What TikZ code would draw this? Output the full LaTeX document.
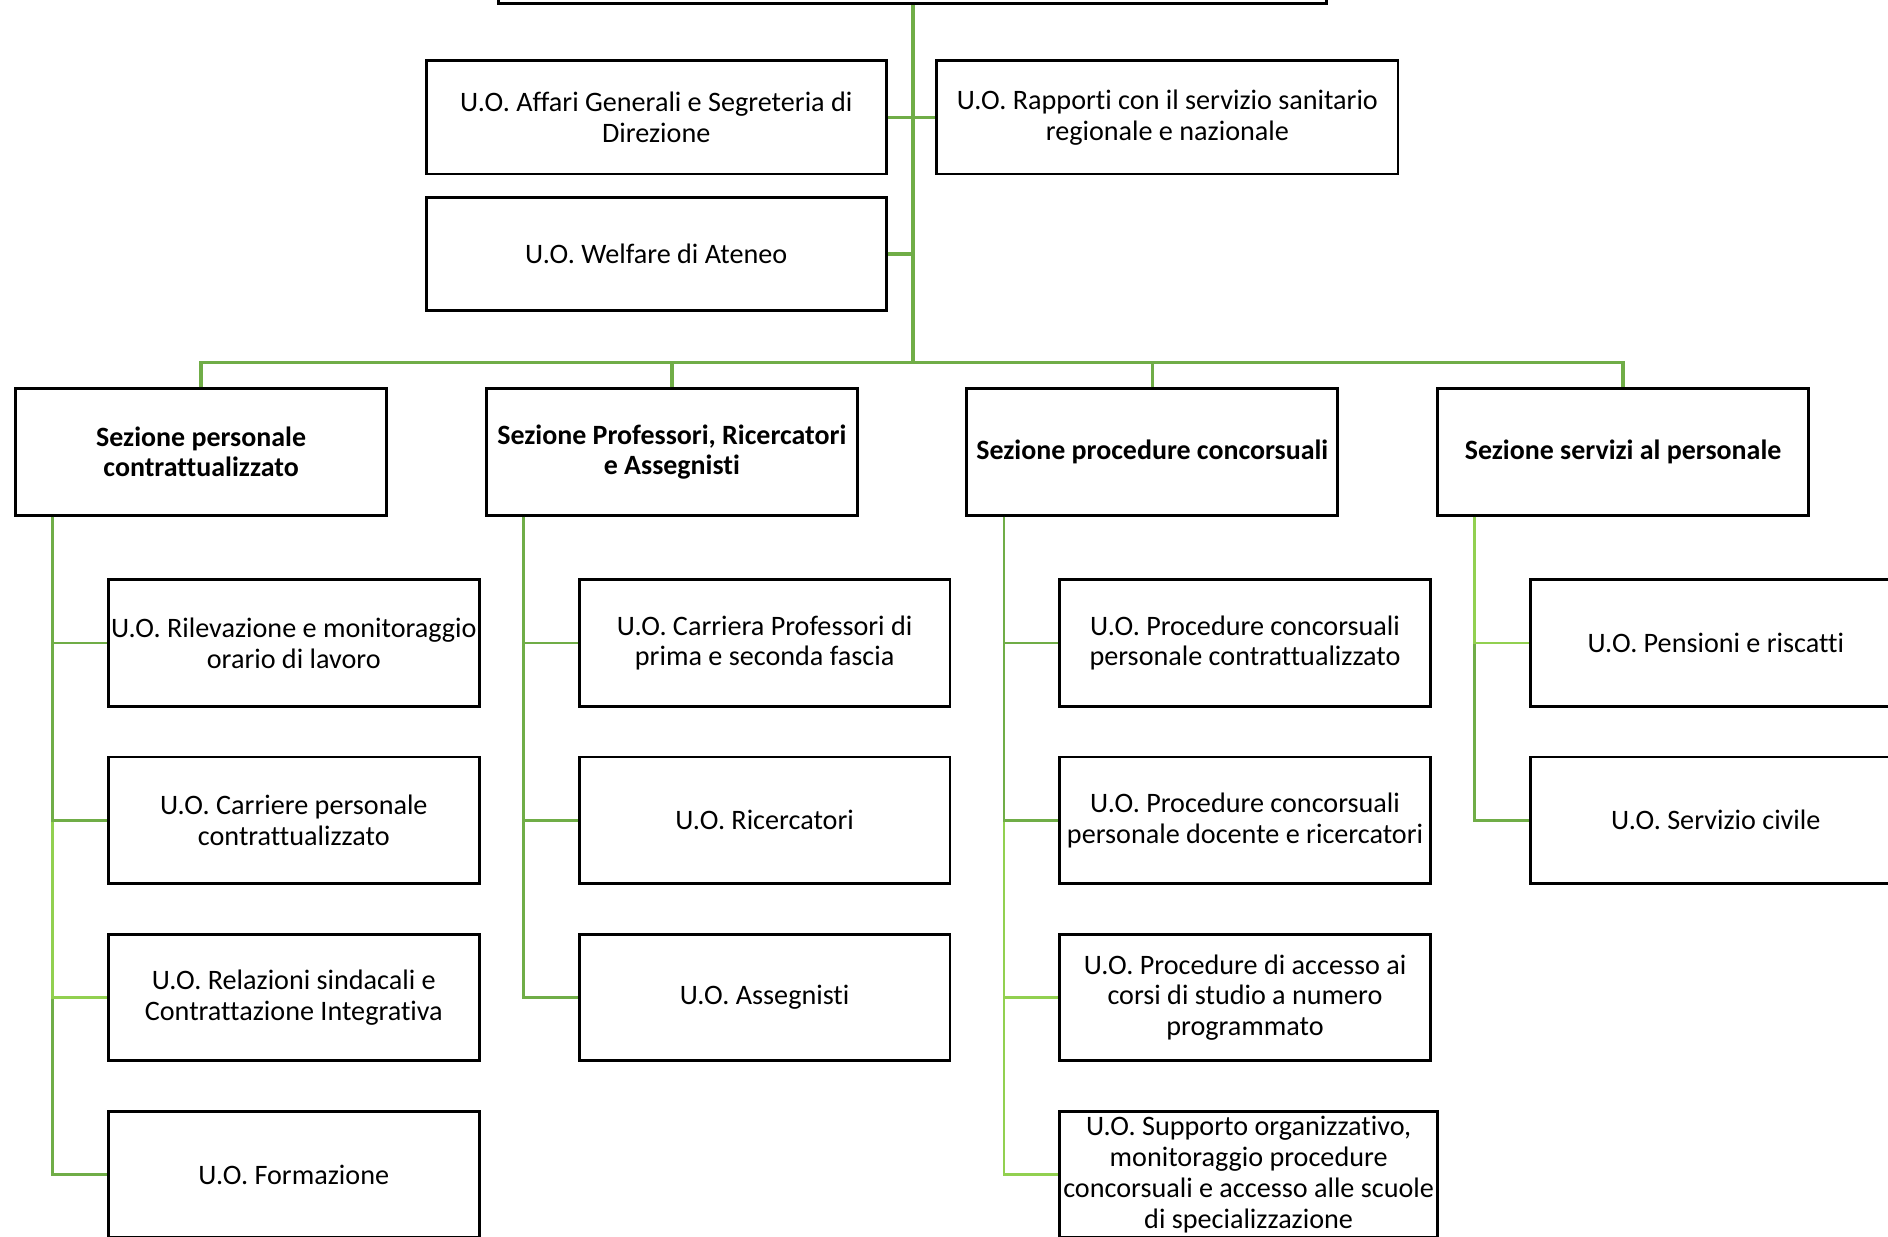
\documentclass[tikz,border=0pt]{standalone}
\usepackage{fontspec}
\setmainfont{Carlito}[Ligatures=NoCommon]
\definecolor{verde}{HTML}{70AD47}
\definecolor{verdechiaro}{HTML}{92D050}

\tikzset{
	ufficio/.style={draw=black, line width=1.2pt, minimum width=154pt, minimum height=52.5pt,
		align=center, inner sep=1pt, font=\fontsize{11.7}{12.8}\selectfont},
	sezione/.style={ufficio, font=\fontsize{11.6}{12.4}\selectfont\bfseries},
	ramo/.style={draw=verde, line width=1.5pt},
	foglia/.style={line width=1.1pt},
}

\begin{document}
\begin{tikzpicture}[x=0.5pt,y=-0.5pt]
	\useasboundingbox (0,0) rectangle (1568,1027);
	\clip (0,0) rectangle (1568,1027);

	% direzione e uffici di staff
	\node[ufficio, minimum width=344pt, minimum height=40pt, anchor=south] (dir) at (758,4) {};
	\node[ufficio, minimum width=191pt, minimum height=47pt] (agsd) at (545,97.5) {U.O. Affari Generali e Segreteria di\\Direzione};
	\node[ufficio, minimum width=191.5pt, minimum height=47pt] (rssn) at (969.5,97.5) {U.O. Rapporti con il servizio sanitario\\regionale e nazionale};
	\node[ufficio, minimum width=191pt, minimum height=47pt] (wel) at (545,211) {U.O. Welfare di Ateneo};

	% sezioni
	\foreach \n/\x/\testo in {s1/167/{Sezione personale\\contrattualizzato}, s2/558/{Sezione Professori, Ricercatori\\e Assegnisti}, s3/957/{Sezione procedure concorsuali}, s4/1348/{Sezione servizi al personale}}
		\node[sezione] (\n) at (\x,375.5) {\testo};

	\coordinate (bus) at (758,301);
	\draw[ramo] (dir.south) -- (bus);
	\draw[ramo] (agsd.east) -- (rssn.west);
	\draw[ramo] (wel.east) -- (wel.east -| bus);
	\draw[ramo] (s1.north) |- (bus) -| (s4.north);
	\draw[ramo] (s2.north) -- (s2.north |- bus);
	\draw[ramo] (s3.north) -- (s3.north |- bus);

	% unita' operative
	\foreach \testo [count=\i] in {{U.O. Rilevazione e monitoraggio\\orario di lavoro}, {U.O. Carriere personale\\contrattualizzato}, {U.O. Relazioni sindacali e\\Contrattazione Integrativa}, {U.O. Formazione}}
		\node[ufficio] (c1\i) at (244,{534+147.2*(\i-1)}) {\testo};
	\foreach \testo [count=\i] in {{U.O. Carriera Professori di\\prima e seconda fascia}, {U.O. Ricercatori}, {U.O. Assegnisti}}
		\node[ufficio] (c2\i) at (635,{534+147.2*(\i-1)}) {\testo};
	\foreach \testo [count=\i] in {{U.O. Procedure concorsuali\\personale contrattualizzato}, {U.O. Procedure concorsuali\\personale docente e ricercatori}, {U.O. Procedure di accesso ai\\corsi di studio a numero\\programmato}}
		\node[ufficio] (c3\i) at (1034,{534+147.2*(\i-1)}) {\testo};
	\node[ufficio, minimum width=157pt] (c34) at (1037,975.5) {U.O. Supporto organizzativo,\\monitoraggio procedure\\concorsuali e accesso alle scuole\\di specializzazione};
	\foreach \testo [count=\i] in {{U.O. Pensioni e riscatti}, {U.O. Servizio civile}}
		\node[ufficio] (c4\i) at (1425,{534+147.2*(\i-1)}) {\testo};

	% connettori (dal basso, cosi' i tratti alti restano sopra)
	\foreach \i/\col in {4/verde, 3/verdechiaro, 2/verde, 1/verde}
		\draw[foglia, draw=\col] ([xshift=16pt]s1.south west) |- (c1\i.west);
	\foreach \i/\col in {3/verde, 2/verde, 1/verde}
		\draw[foglia, draw=\col] ([xshift=16pt]s2.south west) |- (c2\i.west);
	\foreach \i/\col in {4/verdechiaro, 3/verdechiaro, 2/verde, 1/verde}
		\draw[foglia, draw=\col] ([xshift=16pt]s3.south west) |- (c3\i.west);
	\foreach \i/\col in {2/verde, 1/verdechiaro}
		\draw[foglia, draw=\col] ([xshift=16pt]s4.south west) |- (c4\i.west);
\end{tikzpicture}
\end{document}
